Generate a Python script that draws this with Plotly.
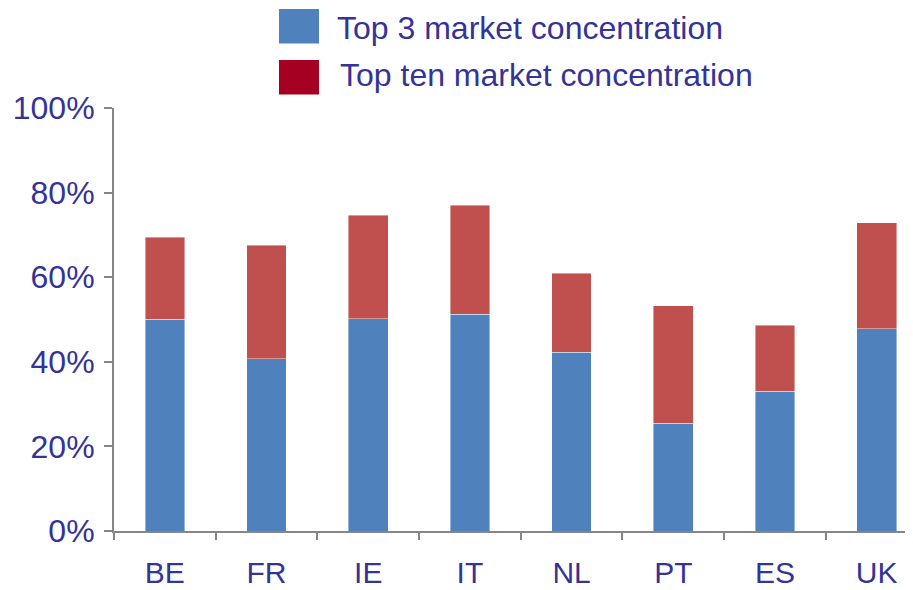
import plotly.graph_objects as go

countries = ["BE", "FR", "IE", "IT", "NL", "PT", "ES", "UK"]
top3 = [50.1, 40.7, 50.2, 51.2, 42.2, 25.5, 33.0, 47.8]
top10 = [69.5, 67.6, 74.7, 77.0, 60.9, 53.3, 48.6, 72.9]

top_rest = [t - s for t, s in zip(top10, top3)]

TXT = "#333399"
GRID = "#868686"
FONT = "Liberation Sans, Arial, sans-serif"

# page has an 8px body margin, so work in page pixels and shift
OFF = 8
W, H = 913 - OFF, 590 - OFF
L, R, T, B = 114 - OFF, 0, 108 - OFF, 59
pw, ph = W - L - R, H - T - B

def px(x):
  return (x - OFF - L) / pw

def py(y):
  return (H - B - (y - OFF)) / ph

fig = go.Figure()

fig.add_trace(go.Bar(
  x=countries, y=top3, name="Top 3 market concentration",
  marker=dict(color="#4F81BD", line=dict(color="rgba(255,255,255,0.6)", width=0.7)),
  width=0.39
))
fig.add_trace(go.Bar(
  x=countries, y=top_rest, name="Top ten market concentration",
  marker=dict(color="#C0504D", line=dict(color="rgba(255,255,255,0.6)", width=0.7)),
  width=0.39
))

# hand made legend with big swatches
legend = [
  ("Top 3 market concentration", "#4F81BD", 9, 43.5, 336, 28),
  ("Top ten market concentration", "#A50021", 60, 94.5, 339, 75),
]
for label, col, y0, y1, tx, ty in legend:
  fig.add_shape(type="rect", xref="paper", yref="paper",
    x0=px(279), x1=px(319), y0=py(y1), y1=py(y0),
    fillcolor=col, line=dict(width=0))
  fig.add_annotation(xref="paper", yref="paper", x=px(tx), y=py(ty),
    text=label, showarrow=False, xanchor="left", yanchor="middle",
    borderpad=0, font=dict(family=FONT, size=32, color=TXT))

fig.update_layout(
  width=W, height=H,
  margin=dict(l=L, r=R, t=T, b=B),
  barmode="stack",
  showlegend=False,
  plot_bgcolor="white", paper_bgcolor="white",
  font=dict(family=FONT, size=31, color=TXT),
)

fig.update_xaxes(
  range=[-0.5, 7.357], automargin=False,
  showline=True, linecolor=GRID, linewidth=2,
  ticks="outside", tickson="boundaries", ticklen=7, tickwidth=2, tickcolor=GRID,
  ticklabelstandoff=14,
  tickfont=dict(family=FONT, size=30, color=TXT),
  showgrid=False, zeroline=False,
)
fig.update_yaxes(
  range=[0, 100], automargin=False, tickvals=[0, 20, 40, 60, 80, 100],
  ticktext=["0%", "20%", "40%", "60%", "80%", "100%"],
  showline=True, linecolor=GRID, linewidth=2,
  ticks="outside", ticklen=8, tickwidth=2, tickcolor=GRID,
  ticklabelstandoff=3,
  tickfont=dict(family=FONT, size=32, color=TXT),
  showgrid=False, zeroline=False,
)

fig.write_html("out.html")
